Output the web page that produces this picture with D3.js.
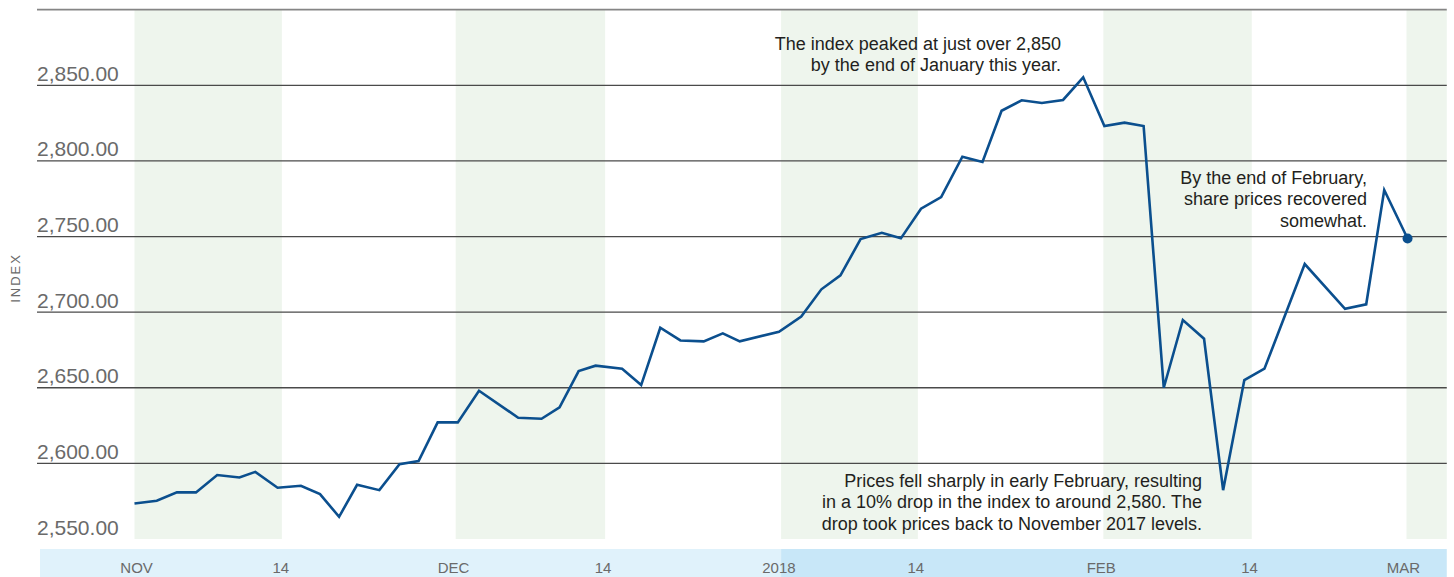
<!DOCTYPE html>
<html>
<head>
<meta charset="utf-8">
<style>
  body { margin: 0; background: #fff; }
  svg { display: block; font-family: "Liberation Sans", Arial, sans-serif; }
  .grid { stroke: #4a4a4a; stroke-width: 1.3; }
  .top-rule { stroke: #858585; stroke-width: 1.8; }
  .ylabel { fill: #6a6a6a; font-size: 21px; }
  .xlabel { fill: #6a6a6a; font-size: 15px; text-anchor: middle; }
  .note { fill: #231f20; font-size: 18px; text-anchor: end; }
  .line { fill: none; stroke: #0b4f8e; stroke-width: 2.6; stroke-linejoin: miter; }
</style>
</head>
<body>
<svg width="1454" height="577"></svg>
<script src="https://d3js.org/d3.v7.min.js"></script>
<script>
// position along the time axis, in days after 1 Nov 2017
var days = [0, 2.1, 4, 5.8, 7.8, 9.9, 11.4, 13.5, 15.7, 17.5, 19.3, 21, 23.1, 25, 26.8,
  28.6, 30.5, 32.5, 36.2, 38.4, 40.1, 41.9, 43.5, 46, 47.8, 49.6, 51.5, 53.7, 55.5, 57.1,
  60.8, 62.9, 64.8, 66.6, 68.5, 70.5, 72.3, 74.2, 76.1, 78.1, 80, 81.8, 83.7, 85.6, 87.6,
  89.5, 91.5, 93.4, 95.2, 97.1, 98.9, 100.9, 102.7, 104.7, 106.6, 110.4, 114.2, 116.2,
  117.9, 120.1];

var index = [2573.5, 2575.3, 2580.8, 2580.8, 2592.3, 2590.7, 2594.4, 2583.9, 2585.2, 2579.7,
  2564.7, 2585.8, 2582.3, 2599.5, 2601.5, 2627.1, 2627.1, 2648, 2630.2, 2629.5,
  2637, 2661, 2664.6, 2662.6, 2651.8, 2689.7, 2681.3, 2680.7, 2686, 2680.7,
  2687, 2697.1, 2715.1, 2724.3, 2748.3, 2752.5, 2748.8, 2768.4, 2776.1, 2802.8,
  2799.3, 2833.2, 2840.1, 2838.3, 2840.3, 2855.3, 2823.1, 2825.3, 2823.1, 2650,
  2694.8, 2682.4, 2582.3, 2655.1, 2662.6, 2731.8, 2702.2, 2705.2, 2780.8, 2748.7];

// shaded half-month bands (start, end in days)
var bandStart = [0, 30.3, 61, 91.4, 120];
var bandEnd   = [13.9, 44.4, 73.9, 105.4, 123.8];

var tickLabels = ["NOV", "14", "DEC", "14", "2018", "14", "FEB", "14", "MAR"];
var tickDays   = [0.2, 13.8, 30.1, 44.2, 60.8, 73.7, 91.2, 105.2, 119.7];

var yLabels = [2550, 2600, 2650, 2700, 2750, 2800, 2850];
var yGrid   = [2600, 2650, 2700, 2750, 2800, 2850];
var yTop = 2900;

var noteTop = ["The index peaked at just over 2,850", "by the end of January this year."];
var noteRight = ["By the end of February,", "share prices recovered", "somewhat."];
var noteBottom = ["Prices fell sharply in early February, resulting",
  "in a 10% drop in the index to around 2,580. The",
  "drop took prices back to November 2017 levels."];

var data = days.map(function(d, i) { return {day: d, value: index[i]}; });

var left = 37, plotBottom = 539, axisTop = 549;

var x = d3.scaleLinear().domain([0, 120]).range([134.5, 1406.5]);
var y = d3.scaleLinear().domain([2550, 2900]).range([539, 9.7]);
var xEnd = x(123.8);

var svg = d3.select("svg");

// green bands
svg.selectAll("rect.band")
  .data(bandStart)
  .enter().append("rect")
  .attr("class", "band")
  .attr("x", function(d) { return x(d); })
  .attr("width", function(d, i) { return x(bandEnd[i]) - x(d); })
  .attr("y", y(yTop))
  .attr("height", plotBottom - y(yTop))
  .attr("fill", "#eef5ed");

// axis strip, darker from the start of 2018
svg.append("rect")
  .attr("x", 40).attr("y", axisTop)
  .attr("width", x(61) - 40).attr("height", 577 - axisTop)
  .attr("fill", "#e0f2fb");
svg.append("rect")
  .attr("x", x(61)).attr("y", axisTop)
  .attr("width", xEnd - x(61)).attr("height", 577 - axisTop)
  .attr("fill", "#c8e7f8");

svg.selectAll("text.xlabel")
  .data(tickLabels)
  .enter().append("text")
  .attr("class", "xlabel")
  .attr("x", function(d, i) { return x(tickDays[i]); })
  .attr("y", 572.5)
  .text(function(d) { return d; });

// grid
svg.selectAll("line.grid")
  .data(yGrid)
  .enter().append("line")
  .attr("class", "grid")
  .attr("x1", left).attr("x2", xEnd)
  .attr("y1", function(d) { return y(d); })
  .attr("y2", function(d) { return y(d); });

svg.append("line")
  .attr("class", "top-rule")
  .attr("x1", left).attr("x2", xEnd)
  .attr("y1", y(yTop)).attr("y2", y(yTop));

svg.selectAll("text.ylabel")
  .data(yLabels)
  .enter().append("text")
  .attr("class", "ylabel")
  .attr("x", left)
  .attr("y", function(d) { return y(d) - 4.5; })
  .text(d3.format(",.2f"));

svg.append("text")
  .attr("transform", "translate(20,278) rotate(-90)")
  .attr("text-anchor", "middle")
  .attr("fill", "#6a6a6a")
  .attr("font-size", 13)
  .attr("letter-spacing", 2)
  .text("INDEX");

// the index line
var valueline = d3.line()
  .x(function(d) { return x(d.day); })
  .y(function(d) { return y(d.value); });

svg.append("path")
  .attr("class", "line")
  .attr("d", valueline(data));

var last = data[data.length - 1];
svg.append("circle")
  .attr("cx", x(last.day))
  .attr("cy", y(last.value))
  .attr("r", 5)
  .attr("fill", "#0b4f8e");

// annotations
function note(lines, xr, y0) {
  svg.append("g").selectAll("text")
    .data(lines)
    .enter().append("text")
    .attr("class", "note")
    .attr("x", xr)
    .attr("y", function(d, i) { return y0 + i * 21.3; })
    .text(function(d) { return d; });
}
note(noteTop, 1061, 50);
note(noteRight, 1367, 184);
note(noteBottom, 1202, 487);
</script>
</body>
</html>
